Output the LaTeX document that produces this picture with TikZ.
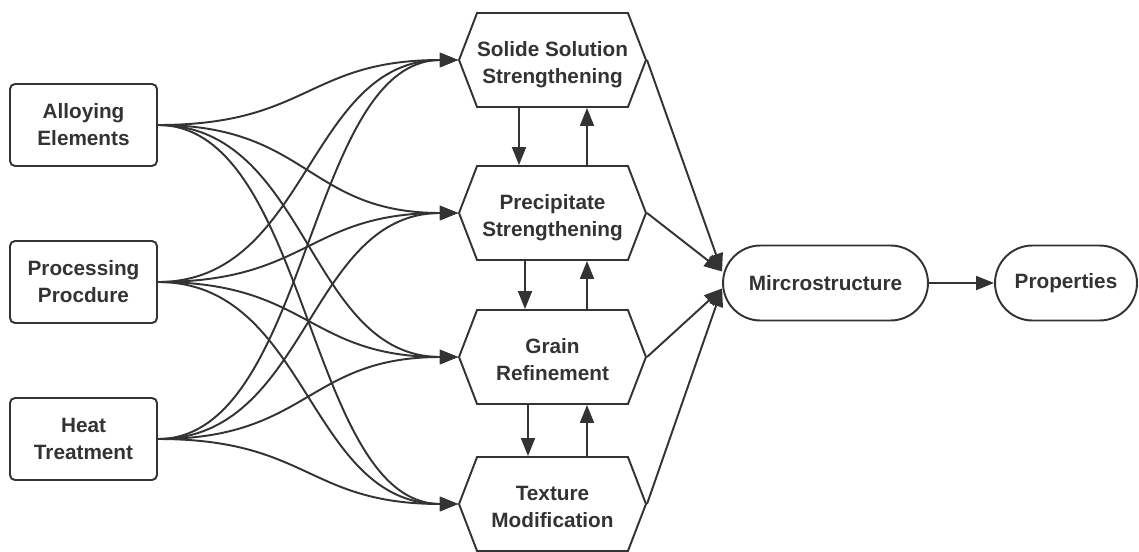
\documentclass[tikz,border=0pt]{standalone}
\usepackage{fontspec}
\setmainfont{Liberation Sans}
\usetikzlibrary{arrows.meta,shapes.symbols,shapes.misc}
\definecolor{ink}{HTML}{333333}
\tikzset{
    box/.style ={
        rectangle,
        rounded corners =0.1cm,
        minimum width =2.94cm,
        minimum height =1.64cm,
        inner sep=0pt,
        align=center,
        draw=ink
    },
    hexbox/.style ={
        signal,
        signal to=west and east,
        signal pointer angle=138,
        minimum width =3.74cm,
        minimum height =1.88cm,
        inner sep=0pt,
        text height=26.5pt,
        text depth=0pt,
        align=center,
        draw=ink
    },
    pill/.style ={
        rounded rectangle,
        minimum height =1.5cm,
        inner sep=0pt,
        draw=ink
    }
}
\begin{document}
\begin{tikzpicture}[x=0.02cm,y=-0.02cm,line width=1.1pt,draw=ink,text=ink,
    font=\fontsize{11.8}{15.4}\selectfont\bfseries,
    >={Triangle[length=0.36cm,width=0.28cm]}]
        \useasboundingbox (0,0) rectangle (1139,551);

        \node[box] (ALLOY) at(83.5,125) {Alloying\\Elements};
        \node[box] (PROC) at(83.5,282) {Processing\\Procdure};
        \node[box] (HEAT) at(83.5,439) {Heat\\Treatment};
        \node[hexbox] (SOLID) at(552.5,60) {Solide Solution\\Strengthening};
        \node[hexbox] (PRECIP) at(552.5,213) {Precipitate\\Strengthening};
        \node[hexbox] (GRAIN) at(552.5,357) {Grain\\Refinement};
        \node[hexbox] (TEXTURE) at(552.5,504) {Texture\\Modification};
        \node[pill,minimum width=4.1cm] (MICRO) at(825.5,283) {Mircrostructure};
        \node[pill,minimum width=2.84cm] (PROP) at(1066,283) {Properties};

        \draw[->] (ALLOY.east) .. controls +(151,0) and +(-151,0) .. (SOLID.west);
        \draw[->] (ALLOY.east) .. controls +(151,0) and +(-151,0) .. (PRECIP.west);
        \draw[->] (ALLOY.east) .. controls +(151,0) and +(-151,0) .. (GRAIN.west);
        \draw[->] (ALLOY.east) .. controls +(151,0) and +(-151,0) .. (TEXTURE.west);
        \draw[->] (PROC.east) .. controls +(151,0) and +(-151,0) .. (SOLID.west);
        \draw[->] (PROC.east) .. controls +(151,0) and +(-151,0) .. (PRECIP.west);
        \draw[->] (PROC.east) .. controls +(151,0) and +(-151,0) .. (GRAIN.west);
        \draw[->] (PROC.east) .. controls +(151,0) and +(-151,0) .. (TEXTURE.west);
        \draw[->] (HEAT.east) .. controls +(151,0) and +(-151,0) .. (SOLID.west);
        \draw[->] (HEAT.east) .. controls +(151,0) and +(-151,0) .. (PRECIP.west);
        \draw[->] (HEAT.east) .. controls +(151,0) and +(-151,0) .. (GRAIN.west);
        \draw[->] (HEAT.east) .. controls +(151,0) and +(-151,0) .. (TEXTURE.west);

        \draw[->] ([xshift=-0.67cm]SOLID.south)--([xshift=-0.67cm]PRECIP.north);
        \draw[->] ([xshift=0.69cm]PRECIP.north)--([xshift=0.69cm]SOLID.south);
        \draw[->] ([xshift=-0.55cm]PRECIP.south)--([xshift=-0.55cm]GRAIN.north);
        \draw[->] ([xshift=0.69cm]GRAIN.north)--([xshift=0.69cm]PRECIP.south);
        \draw[->] ([xshift=-0.49cm]GRAIN.south)--([xshift=-0.49cm]TEXTURE.north);
        \draw[->] ([xshift=0.69cm]TEXTURE.north)--([xshift=0.69cm]GRAIN.south);

        \draw[->] (SOLID.east)--([yshift=0.23cm]MICRO.west);
        \draw[->] (PRECIP.east)--([yshift=0.23cm]MICRO.west);
        \draw[->] (GRAIN.east)--([yshift=-0.11cm]MICRO.west);
        \draw[->] (TEXTURE.east)--([yshift=-0.11cm]MICRO.west);
        \draw[->] (MICRO)--(PROP);
    \end{tikzpicture}
\end{document}
